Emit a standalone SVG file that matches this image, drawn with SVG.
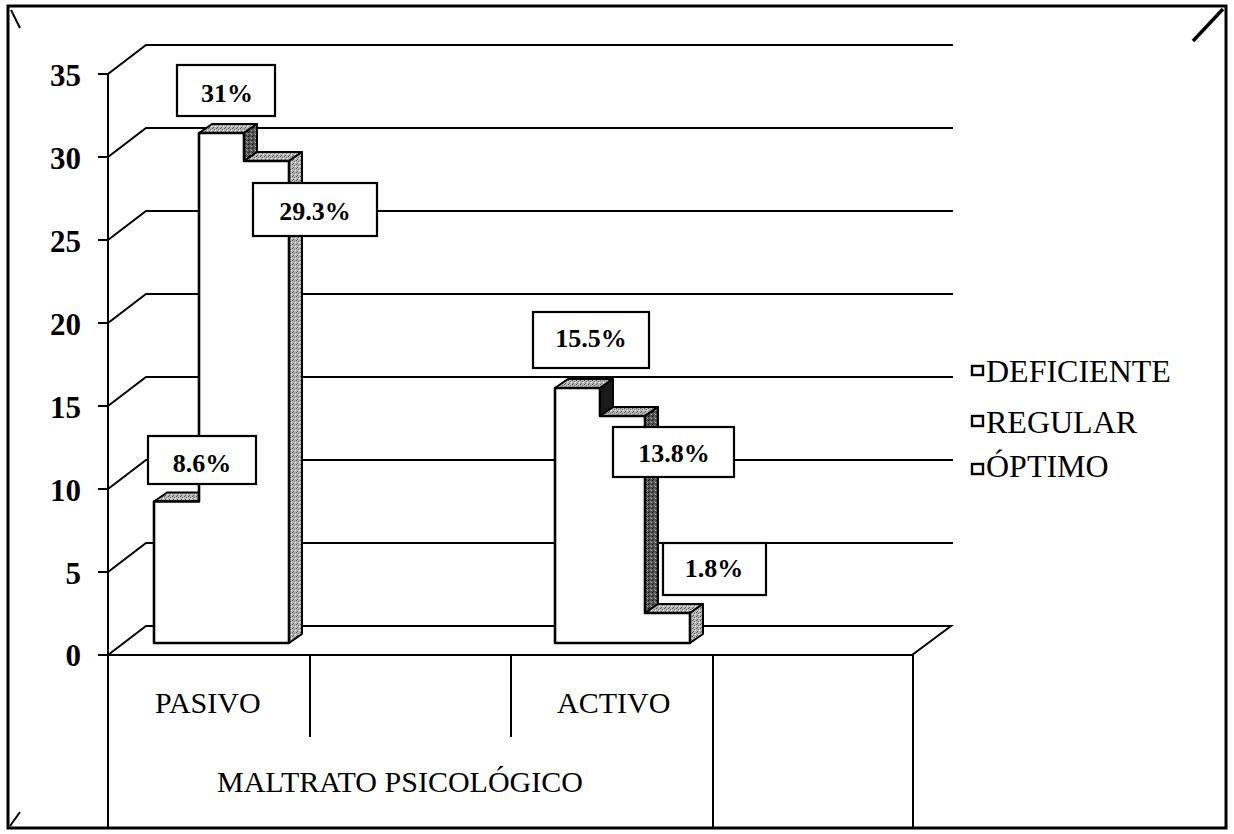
<svg xmlns="http://www.w3.org/2000/svg" width="1234" height="834" viewBox="0 0 1234 834">
<style>
.ln{stroke:#000;stroke-width:2;fill:none}
.thk{stroke:#000;stroke-width:3;fill:none}
.face{stroke:#000;stroke-width:2;stroke-linejoin:round}
.front{fill:#fff;stroke:none}
.box{fill:#fff;stroke:#000;stroke-width:2.2}
text{font-family:'Liberation Serif','DejaVu Serif','Times New Roman',serif;fill:#000}
.ax{font-size:31px;font-weight:bold;text-anchor:end}
.dl{font-size:26px;font-weight:bold;text-anchor:middle}
.cat{font-size:30px}
.lg{font-size:32px}
.sq{fill:#fff;stroke:#000;stroke-width:2.4}
</style>
<defs>
<pattern id="stip" width="4" height="4" patternUnits="userSpaceOnUse">
<rect width="4" height="4" fill="#b5b5b5"/>
<rect x="0" y="0" width="1" height="1" fill="#555"/>
<rect x="2" y="1" width="1" height="1" fill="#777"/>
<rect x="1" y="3" width="1" height="1" fill="#666"/>
<rect x="3" y="2" width="1" height="1" fill="#eee"/>
</pattern>
<pattern id="stipd" width="4" height="4" patternUnits="userSpaceOnUse">
<rect width="4" height="4" fill="#555"/>
<rect x="0" y="0" width="1" height="1" fill="#111"/>
<rect x="2" y="1" width="1" height="1" fill="#999"/>
<rect x="1" y="3" width="1" height="1" fill="#222"/>
<rect x="3" y="2" width="1" height="1" fill="#aaa"/>
</pattern>
</defs>
<rect width="1234" height="834" fill="#fff"/>

<g id="frame">
<rect x="8" y="6" width="1218" height="822" class="thk"/>
<path d="M1193,41 L1223,9" stroke="#000" stroke-width="3.5" fill="none"/>
<path d="M11,10 L20,28" class="ln"/>
<path d="M10,826 L20,812" class="ln"/>
</g>

<g id="connectors">
<path class="ln" d="M108,74 L146,45 L953,45"/>
<path class="ln" d="M108,157 L146,128 L953,128"/>
<path class="ln" d="M108,240 L146,211 L953,211"/>
<path class="ln" d="M108,323 L146,294 L953,294"/>
<path class="ln" d="M108,406 L146,377 L953,377"/>
<path class="ln" d="M108,489 L146,460 L953,460"/>
<path class="ln" d="M108,572 L146,543 L953,543"/>
<path class="ln" d="M108,655 L146,626 L951,626 L912,655 Z"/>
<path class="ln" d="M108,74 L108,828"/>
<path class="ln" d="M98,74 H108 M98,157 H108 M98,240 H108 M98,323 H108 M98,406 H108 M98,489 H108 M98,572 H108 M98,655 H108"/>
<path class="ln" d="M310,655 V737 M511,655 V737 M713,655 V828 M913,655 V828"/>
</g>

<g id="y-labels">
<text class="ax" x="81" y="86" font-family="Liberation Serif, serif">35</text>
<text class="ax" x="81" y="169" font-family="Liberation Serif, serif">30</text>
<text class="ax" x="81" y="252" font-family="Liberation Serif, serif">25</text>
<text class="ax" x="81" y="335" font-family="Liberation Serif, serif">20</text>
<text class="ax" x="81" y="418" font-family="Liberation Serif, serif">15</text>
<text class="ax" x="81" y="501" font-family="Liberation Serif, serif">10</text>
<text class="ax" x="81" y="584" font-family="Liberation Serif, serif">5</text>
<text class="ax" x="81" y="666" font-family="Liberation Serif, serif">0</text>
</g>

<g id="bars-pasivo">
<polygon class="face" fill="url(#stip)" points="154,501.5 167,492.5 212,492.5 199,501.5"/>
<polygon class="face" fill="url(#stip)" points="199,501.5 212,492.5 212,634 199,643"/>
<polygon class="face" fill="url(#stip)" points="199,133 212,124 257,124 244,133"/>
<polygon class="face" fill="url(#stipd)" points="244,133 257,124 257,634 244,643"/>
<polygon class="face" fill="url(#stip)" points="244,161 257,152 302,152 289,161"/>
<polygon class="face" fill="url(#stip)" points="289,161 302,152 302,634 289,643"/>
<rect class="front" x="154" y="501.5" width="45" height="141.5"/>
<rect class="front" x="199" y="133" width="45" height="510"/>
<rect class="front" x="244" y="161" width="45" height="482"/>
<path d="M154,643 V501.5 H199 V133 H244 V161 H289 V643 Z" stroke="#000" stroke-width="2.6" fill="none" stroke-linejoin="round"/>
</g>

<g id="bars-activo">
<polygon class="face" fill="url(#stip)" points="555,388 568,379 613,379 600,388"/>
<polygon class="face" fill="#1a1a1a" points="600,388 613,379 613,634 600,643"/>
<polygon class="face" fill="url(#stip)" points="600,416 613,407 658,407 645,416"/>
<polygon class="face" fill="url(#stipd)" points="645,416 658,407 658,634 645,643"/>
<polygon class="face" fill="url(#stip)" points="645,613 658,604 703,604 690,613"/>
<polygon class="face" fill="url(#stip)" points="690,613 703,604 703,634 690,643"/>
<rect class="front" x="555" y="388" width="45" height="255"/>
<rect class="front" x="600" y="416" width="45" height="227"/>
<rect class="front" x="645" y="613" width="45" height="30"/>
<path d="M555,643 V388 H600 V416 H645 V613 H690 V643 Z" stroke="#000" stroke-width="2.6" fill="none" stroke-linejoin="round"/>
</g>

<g id="label-31">
<rect class="box" x="177" y="65" width="98" height="51"/>
<text class="dl" x="227" y="102" font-family="Liberation Serif, serif">31%</text>
</g>
<g id="label-29-3">
<rect class="box" x="253" y="183" width="124" height="53"/>
<text class="dl" x="315" y="220" font-family="Liberation Serif, serif">29.3%</text>
</g>
<g id="label-8-6">
<rect class="box" x="148" y="436" width="108" height="48"/>
<text class="dl" x="202" y="472" font-family="Liberation Serif, serif">8.6%</text>
</g>
<g id="label-15-5">
<rect class="box" x="533" y="312" width="116" height="56"/>
<text class="dl" x="591" y="347" font-family="Liberation Serif, serif">15.5%</text>
</g>
<g id="label-13-8">
<rect class="box" x="613" y="427" width="121" height="50"/>
<text class="dl" x="674" y="462" font-family="Liberation Serif, serif">13.8%</text>
</g>
<g id="label-1-8">
<rect class="box" x="663" y="543" width="103" height="52"/>
<text class="dl" x="714" y="577" font-family="Liberation Serif, serif">1.8%</text>
</g>

<g id="category-labels">
<text class="cat" x="155" y="713" font-family="Liberation Serif, serif">PASIVO</text>
<text class="cat" x="557" y="713" font-family="Liberation Serif, serif">ACTIVO</text>
<text class="cat" x="217" y="792" font-family="Liberation Serif, serif">MALTRATO PSICOLÓGICO</text>
</g>

<g id="legend">
<rect class="sq" x="972" y="366" width="11" height="9"/>
<text class="lg" x="986" y="382" font-family="Liberation Serif, serif">DEFICIENTE</text>
<rect class="sq" x="972" y="416" width="11" height="10"/>
<text class="lg" x="986" y="433" font-family="Liberation Serif, serif">REGULAR</text>
<rect class="sq" x="972" y="464" width="11" height="10"/>
<text class="lg" x="986" y="477" font-family="Liberation Serif, serif">ÓPTIMO</text>
</g>
</svg>
